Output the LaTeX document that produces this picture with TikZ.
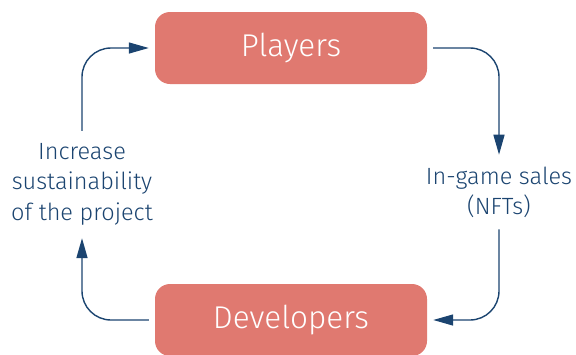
\documentclass[tikz,border=0pt]{standalone}
\usepackage{fontspec}
\setmainfont{Fira Sans Light}
\usetikzlibrary{arrows.meta,positioning}
\definecolor{boxred}{HTML}{E07970}
\definecolor{navy}{HTML}{1B4470}
\tikzstyle{actor}=[rectangle,rounded corners=15pt,fill=boxred,text=white,minimum width=272pt,minimum height=72pt,inner sep=0pt,font=\fontsize{31.5}{36}\selectfont]
\tikzstyle{effect}=[inner sep=0pt,align=center,text=navy,font=\fontsize{23.5}{30.5}\selectfont]
\tikzstyle{flow}=[draw=navy,line width=1.4pt,rounded corners=29pt,-{Triangle[length=20pt,width=11pt]}]

\begin{document}
\begin{tikzpicture}[x=1pt,y=-1pt]
    \useasboundingbox (0,0) rectangle (576,354);

    \node[actor] (players) at (291,48) {Players};
    \node[actor] (devs) at (291,320) {Developers};
    \node[effect] (sales) at (499,192.5) {In-game sales \\ (NFTs)};
    \node[effect] (sustain) at (82,184) {Increase \\ sustainability \\ of the project};

    \draw[flow,shorten <=6pt,shorten >=12pt] (players.east) -| (sales.north);
    \draw[flow,shorten <=11pt,shorten >=6pt] (sales.south) |- (devs.east);
    \draw[flow,shorten <=6pt,shorten >=13pt] (devs.west) -| (sustain.south);
    \draw[flow,shorten <=12pt,shorten >=6pt] (sustain.north) |- (players.west);
\end{tikzpicture}
\end{document}
